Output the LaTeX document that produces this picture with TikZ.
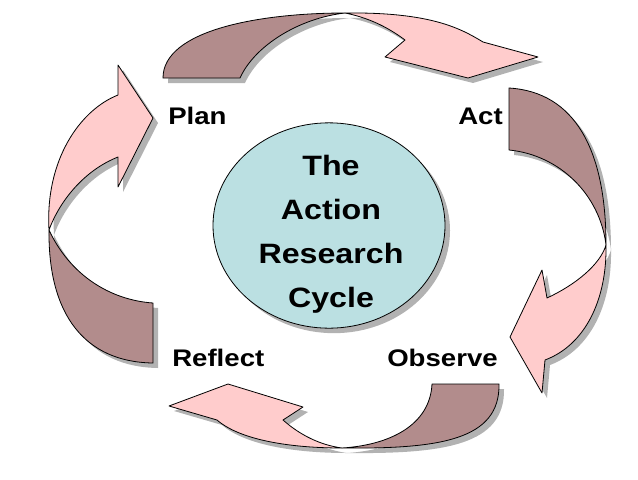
\documentclass[tikz,border=0pt]{standalone}
\usepackage{fontspec}
\setmainfont{Liberation Sans}[FakeStretch=1.15]
\usetikzlibrary{shapes.geometric,shadows}
\definecolor{tailbrown}{RGB}{178,140,140}
\definecolor{headpink}{RGB}{255,204,204}
\definecolor{cycleblue}{RGB}{187,224,226}
\definecolor{shadowgray}{RGB}{178,178,178}

\begin{document}
\begin{tikzpicture}[x=0.75pt,y=-0.75pt]
    % Styles
    \tikzset{
      ribbon/.style={draw=black,line width=0.6pt,line join=round,
        drop shadow={shadow xshift=3.75pt,shadow yshift=-3.75pt,fill=shadowgray,opacity=1}},
      tail part/.style={ribbon,fill=tailbrown},
      head part/.style={ribbon,fill=headpink},
      stage/.style={font=\fontsize{18}{20}\selectfont\bfseries,inner sep=0pt}
    }
    \useasboundingbox (0,0) rectangle (638,479);

    % --- Centre: the cycle ---
    \node[ellipse,draw=black,line width=0.6pt,fill=cycleblue,
      minimum width=174pt,minimum height=154pt,
      drop shadow={shadow xshift=3.75pt,shadow yshift=-3.75pt,fill=shadowgray,opacity=1}]
      (cycle) at (329,225.5) {};
    \node[font=\fontsize{21}{33}\selectfont\bfseries,align=center,inner sep=0pt]
      (title) at (331,234.7) {The\\Action\\Research\\Cycle};

    % --- Top arrow: Plan to Act ---
    \draw[tail part] (163,78) .. controls (163,30) and (260,13) .. (345,13)
      .. controls (300,18) and (255,45) .. (240,78) -- cycle;
    \draw[head part] (345,13) .. controls (430,12) and (460,28) .. (483,42)
      -- (538,57) -- (468,78) -- (385,57) -- (405,40)
      .. controls (385,25) and (365,17) .. (345,13) -- cycle;

    % --- Right arrow: Act to Observe ---
    \draw[tail part] (509,88) .. controls (575,92) and (606,150) .. (606,245)
      .. controls (600,195) and (560,155) .. (509,150) -- cycle;
    \draw[head part] (606,245) .. controls (607,300) and (585,345) .. (545,360)
      -- (542,393) -- (510,337) -- (542,270) -- (547,298)
      .. controls (575,285) and (600,265) .. (606,245) -- cycle;

    % --- Bottom arrow: Observe to Reflect ---
    \draw[head part] (342,448) .. controls (290,448) and (240,440) .. (217,420)
      -- (169,406) -- (228,384) -- (303,407) -- (283,420)
      .. controls (300,435) and (320,445) .. (342,448) -- cycle;
    \draw[tail part] (499,384) .. controls (500,440) and (440,449) .. (342,448)
      .. controls (390,445) and (430,425) .. (432,384) -- cycle;

    % --- Left arrow: Reflect to Plan ---
    \draw[head part] (49,230) .. controls (45,160) and (80,110) .. (118,95)
      -- (118,65) -- (153,118) -- (118,187) -- (118,157)
      .. controls (85,170) and (60,200) .. (49,230) -- cycle;
    \draw[tail part] (153,363) .. controls (85,362) and (48,315) .. (49,230)
      .. controls (70,275) and (110,300) .. (153,303) -- cycle;

    % --- Stage labels ---
    \node[stage,anchor=base west] (plan) at (168,124) {Plan};
    \node[stage,anchor=base east] (act) at (503,124) {Act};
    \node[stage,anchor=base west] (reflect) at (172,366) {Reflect};
    \node[stage,anchor=base east] (observe) at (498,366) {Observe};

  \end{tikzpicture}
\end{document}
